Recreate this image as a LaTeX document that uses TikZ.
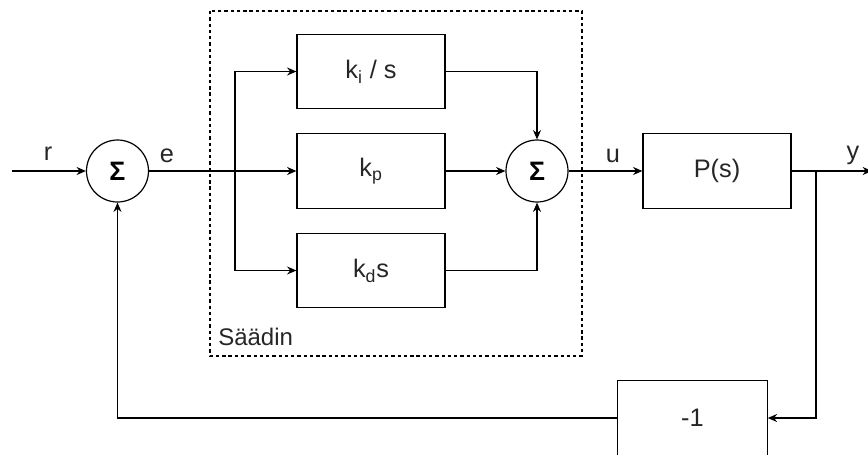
\documentclass[tikz,border=0pt]{standalone}
\usepackage{fontspec}
\setmainfont{Liberation Sans}
\usetikzlibrary{arrows.meta}
\colorlet{txt}{black!85}
\tikzset{
  blk/.style={draw, line width=0.9pt, minimum width=111pt, minimum height=56pt, inner sep=0pt, text=txt, font=\fontsize{19}{22}\selectfont},
  sumnode/.style={draw, circle, line width=0.9pt, minimum size=46.5pt, inner sep=0pt, font=\fontsize{20}{22}\selectfont\bfseries},
  sig/.style={line width=0.9pt},
  arr/.style={sig, -{Stealth[length=7pt,width=6pt]}},
  lbl/.style={font=\fontsize{19}{22}\selectfont, text=txt, inner sep=0pt},
  grp/.style={draw, line width=0.8pt, dash pattern=on 2.5pt off 2.2pt}
}
\begin{document}
\begin{tikzpicture}[x=0.75pt,y=-0.75pt]
\useasboundingbox (0,0) rectangle (868,454);
\clip (0,0) rectangle (868,454);
% controller group
\draw[grp] (210,11) rectangle (582,356);
\node[lbl, anchor=west, font=\fontsize{18}{21}\selectfont] (sd) at (218,337) {Säädin};
% nodes
\node[sumnode] (s1) at (117.5,171) {Σ};
\node[blk] (ki) at (371,71.5) {k\textsubscript{i} / s};
\node[blk] (kp) at (371,171) {k\textsubscript{p}};
\node[blk] (kd) at (371,270.5) {k\textsubscript{d}s};
\node[sumnode] (s2) at (537,171) {Σ};
\node[blk] (P) at (717,171) {P(s)};
\node[blk, minimum width=112pt] (neg) at (692.5,418) {-1};
\coordinate (in) at (12,171);
\coordinate (out) at (872,171);
\coordinate (br) at (235,171);
\coordinate (fb) at (816,171);
% connectors
\draw[arr] (in) -- (s1.west);
\draw[arr] (s1.east) -- (kp.west);
\draw[arr] (br) |- (ki.west);
\draw[arr] (br) |- (kd.west);
\draw[arr] (ki.east) -| (s2.north);
\draw[arr] (kp.east) -- (s2.west);
\draw[arr] (kd.east) -| (s2.south);
\draw[arr] (s2.east) -- (P.west);
\draw[arr] (P.east) -- (out);
\draw[arr] (fb) |- (neg.east);
\draw[arr] (neg.west) -| (s1.south);
% labels
\node[lbl] (lr) at (48,154) {r};
\node[lbl] (le) at (167,156) {e};
\node[lbl] (lu) at (613,156) {u};
\node[lbl] (ly) at (853,155) {y};
\end{tikzpicture}
\end{document}
